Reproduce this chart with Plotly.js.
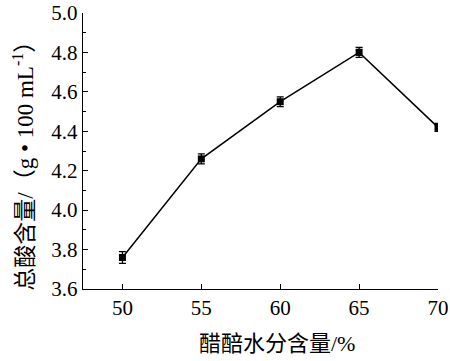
<!DOCTYPE html>
<html><head><meta charset="utf-8">
<script src="https://cdn.plot.ly/plotly-3.0.1.min.js"></script>
<style>html,body{margin:0;padding:0;background:#fff}</style>
</head><body>
<div id="chart" style="width:450px;height:361px"></div>
<script>
const moisture = [50, 55, 60, 65, 70];
const totalAcid = [3.76, 4.26, 4.55, 4.80, 4.42];
const acidErr = [0.03, 0.025, 0.025, 0.025, 0.02];
const xTicks = [50, 55, 60, 65, 70];
const yTicks = [3.6, 3.8, 4.0, 4.2, 4.4, 4.6, 4.8, 5.0];
const yTickText = ['3.6','3.8','4.0','4.2','4.4','4.6','4.8','5.0'];
const xTitle = '醋醅水分含量/%';
const yTitle = '总酸含量/（g • 100 mL<sup>-1</sup>）';

const fontFam = '"Liberation Serif", "Times New Roman", "Noto Sans CJK SC", serif';

const trace = {
  x: moisture, y: totalAcid, type: 'scatter', mode: 'lines+markers',
  line: {color: '#000', width: 1.5},
  marker: {symbol: 'square', size: 7, color: '#000'},
  error_y: {type: 'data', array: acidErr, visible: true, color: '#000', thickness: 1.3, width: 3.5}
};

const layout = {
  width: 450, height: 361,
  margin: {l: 83, r: 12, t: 13, b: 72},
  paper_bgcolor: '#fff', plot_bgcolor: '#fff',
  showlegend: false,
  font: {family: fontFam, color: '#000', size: 21},
  xaxis: {
    range: [47.5, 70], tickvals: xTicks, ticktext: xTicks.map(String),
    ticks: 'inside', ticklen: 5, tickcolor: '#000', tickwidth: 1,
    showline: true, linecolor: '#000', linewidth: 1.2, showgrid: false, zeroline: false,
    tickfont: {family: fontFam, size: 21}
  },
  yaxis: {
    range: [3.6, 5.0], tickvals: yTicks, ticktext: yTickText,
    ticks: 'inside', ticklen: 5, tickcolor: '#000', tickwidth: 1,
    minor: {dtick: 0.1, ticks: 'inside', ticklen: 3, tickcolor: '#000'},
    showline: true, linecolor: '#000', linewidth: 1.2, showgrid: false, zeroline: false,
    tickfont: {family: fontFam, size: 21}
  },
  annotations: [
    {text: xTitle, xref: 'paper', yref: 'paper', x: 0.546, y: -0.196,
     xanchor: 'center', yanchor: 'middle', showarrow: false,
     font: {family: fontFam, size: 22, color: '#000'}},
    {text: yTitle, xref: 'paper', yref: 'paper', x: -0.166, y: 0.465,
     xanchor: 'center', yanchor: 'middle', showarrow: false, textangle: -90,
     font: {family: fontFam, size: 23, color: '#000'}}
  ]
};

Plotly.newPlot('chart', [trace], layout, {displayModeBar: false, staticPlot: true});
</script>
</body></html>
